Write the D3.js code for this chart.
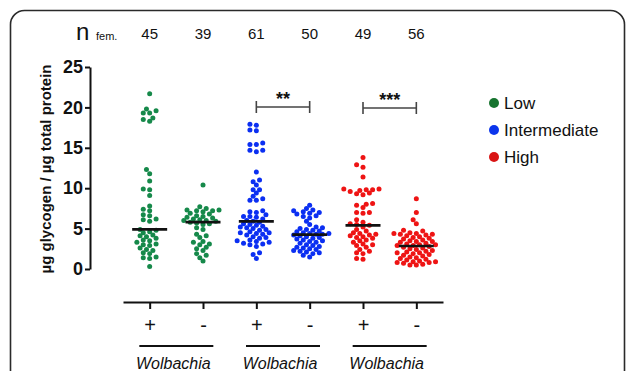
<!DOCTYPE html>
<html>
<head>
<meta charset="utf-8">
<script src="https://cdn.jsdelivr.net/npm/d3@7"></script>
<style>
  body { margin: 0; background: #fff; }
  svg { font-family: Arial, "Liberation Sans", sans-serif; }
</style>
</head>
<body>
<svg id="chart" width="627" height="371"></svg>
<script>
// groups, in plotting order
const groups = ['low+', 'low-', 'int+', 'int-', 'high+', 'high-'];
const wolbachia = ['+', '-', '+', '-', '+', '-'];
const nFemales = [45, 39, 61, 50, 49, 56];
const levels = ['Low', 'Intermediate', 'High'];
const yTicks = [0, 5, 10, 15, 20, 25];

// glycogen / protein values
const lowPlus = [21.7, 19.8, 19.3, 19.3, 19.6, 18.7, 18.3, 18.5,
  12.3, 11.8, 10.9, 9.9, 9.8, 9.1, 7.8, 7.4, 7.2,
  6.7, 6.6, 6.2, 6.1, 5.9, 4.9,
  4.8, 4.6, 4.5, 4.2, 4.1, 4.0, 3.8, 3.6, 3.5, 3.3, 3.1, 3.0, 2.9, 2.6, 2.4, 2.3, 2.0, 1.9, 1.5, 1.4, 1.3, 0.3];
const lowMinus = [10.4, 7.7, 7.5, 7.3, 7.2, 7.2, 7.1, 7.3, 6.9, 6.8, 6.6, 6.5, 6.4, 6.3, 6.2, 6.1, 6.0, 6.0, 5.9,
  5.8,
  5.7, 5.6, 5.5, 5.1, 4.9, 4.3, 4.1, 3.9, 3.4, 3.3, 3.1, 3.0, 2.7, 2.5, 2.3, 1.9, 1.7, 1.4, 1.0];
const intPlus = [17.9, 17.8, 17.1, 17.2, 15.6, 15.4, 15.4, 14.7, 14.5, 14.7, 12.0, 11.0, 10.8, 10.4, 9.8, 9.8, 9.4, 9.0, 8.7, 8.5, 8.5,
  7.2, 7.1, 7.0, 6.7, 6.5, 6.5, 6.4, 6.2, 6.0,
  5.9,
  5.8, 5.6, 5.5, 5.4, 5.3, 5.2, 5.1, 5.0, 4.9, 4.8, 4.6, 4.5, 4.5, 4.4, 4.3,
  4.2, 4.0, 3.9, 3.8, 3.6, 3.5, 3.4, 3.3, 3.2, 3.1, 3.0, 2.8, 2.0, 1.8, 1.3];
const intMinus = [7.9, 7.5, 7.3, 7.2, 7.1, 7.0, 6.9, 6.8, 6.6, 6.5, 6.3, 5.9, 5.5, 5.2, 5.1, 5.0, 4.9, 4.8, 4.7, 4.6, 4.5, 4.4, 4.4, 4.3, 4.3,
  4.2, 4.1, 4.0, 3.9, 3.8, 3.7, 3.6, 3.5, 3.4, 3.3, 3.2, 3.0, 2.9, 2.8, 2.7, 2.6, 2.5, 2.4, 2.3, 2.2, 2.1, 2.0, 1.9, 1.7, 1.5];
const highPlus = [13.8, 12.9, 12.6, 11.4, 9.9, 9.8, 9.8, 9.9, 9.7, 9.6, 9.4, 9.3, 9.2, 8.1, 8.0, 7.9, 7.6, 7.0, 7.0, 6.9, 6.1, 5.8, 5.6, 5.5,
  5.4,
  5.2, 4.9, 4.7, 4.5, 4.4, 4.3, 4.2, 4.1, 4.0, 3.9, 3.8, 3.6, 3.5, 3.3, 3.1, 3.0, 2.9, 2.7, 2.4, 2.2, 2.0, 1.9, 1.3, 1.2];
const highMinus = [8.7, 7.0, 6.1, 5.6, 4.8, 4.7, 4.5, 4.4, 4.4, 4.3, 4.3, 4.2, 4.1, 4.0, 3.9, 3.8, 3.7, 3.6, 3.5, 3.4, 3.4, 3.3, 3.2, 3.1, 3.0, 3.0, 2.9, 2.9,
  2.8, 2.7, 2.6, 2.5, 2.4, 2.3, 2.2, 2.1, 2.0, 2.0, 1.9, 1.8, 1.7, 1.6, 1.5, 1.4, 1.3, 1.2, 1.1, 1.0, 0.9, 0.9, 0.8, 0.7, 0.6, 0.5, 0.5, 0.8];

const series = [lowPlus, lowMinus, intPlus, intMinus, highPlus, highMinus];
const dotColors = ['#16894a', '#16894a', '#0b2ff2', '#0b2ff2', '#ee1414', '#ee1414'];
const legendColors = ['#17742f', '#0b35ec', '#d91414'];

const svg = d3.select('#chart');

// frame with rounded corners, runs off the bottom
svg.append('rect')
  .attr('x', 10.5).attr('y', 10.5)
  .attr('width', 614).attr('height', 420)
  .attr('rx', 14)
  .attr('fill', 'none')
  .attr('stroke', '#2a2a2a')
  .attr('stroke-width', 1.6);

const x = d3.scalePoint()
  .domain(groups)
  .range([123, 443])
  .padding(0.5);

const y = d3.scaleLinear()
  .domain([0, 25])
  .range([269, 67]);

// y axis
const yAxis = d3.axisLeft(y)
  .tickValues(yTicks)
  .tickSize(5)
  .tickSizeOuter(0);

svg.append('g')
  .attr('transform', 'translate(90,0)')
  .call(yAxis)
  .call(g => g.select('.domain').attr('stroke', '#111').attr('stroke-width', 2))
  .call(g => g.selectAll('.tick line').attr('stroke', '#111').attr('stroke-width', 2))
  .call(g => g.selectAll('.tick text')
    .attr('x', -7)
    .attr('fill', '#111')
    .style('font-size', '18px')
    .style('font-weight', 'bold')
    .style('font-family', 'Arial, "Liberation Sans", sans-serif'));

// y axis title
svg.append('text')
  .attr('transform', 'translate(51,169) rotate(-90)')
  .attr('text-anchor', 'middle')
  .style('font-size', '15px')
  .style('font-weight', 'bold')
  .attr('fill', '#111')
  .text('µg glycogen / µg total protein');

// beeswarm layout, points sorted by value, each pushed sideways until it fits
const r = 2.5;
function swarm(values) {
  const placed = [];
  const sorted = values.slice().sort((a, b) => a - b);
  sorted.forEach(v => {
    const py = y(v);
    let off = 0;
    for (let k = 0; k < 40; k++) {
      const cand = k === 0 ? 0 : (k % 2 ? -1 : 1) * Math.ceil(k / 2) * 3.2;
      const hit = placed.some(p => Math.hypot(p.dx - cand, p.py - py) < 4.4);
      if (!hit) { off = cand; break; }
    }
    placed.push({ v: v, py: py, dx: off });
  });
  return placed;
}

series.forEach((vals, i) => {
  const cx = x(groups[i]);
  const pts = swarm(vals);

  svg.append('g')
    .selectAll('circle')
    .data(pts)
    .enter().append('circle')
    .attr('cx', d => cx + d.dx)
    .attr('cy', d => d.py)
    .attr('r', r)
    .attr('fill', dotColors[i]);

  // median bar
  const med = d3.median(vals);
  svg.append('line')
    .attr('x1', cx - 17.5).attr('x2', cx + 17.5)
    .attr('y1', y(med)).attr('y2', y(med))
    .attr('stroke', '#111')
    .attr('stroke-width', 2.6);
});

// n row
svg.append('text')
  .attr('x', 76).attr('y', 40)
  .style('font-size', '24px')
  .attr('fill', '#111')
  .text('n');
svg.append('text')
  .attr('x', 96).attr('y', 40)
  .style('font-size', '11px')
  .attr('fill', '#111')
  .text('fem.');
svg.append('g')
  .selectAll('text')
  .data(nFemales)
  .enter().append('text')
  .attr('x', (d, i) => x(groups[i]))
  .attr('y', 39)
  .attr('text-anchor', 'middle')
  .style('font-size', '15px')
  .attr('fill', '#111')
  .text(d => d);

// significance brackets
const brackets = [
  { a: 'int+', b: 'int-', label: '**', yv: 107 },
  { a: 'high+', b: 'high-', label: '***', yv: 108 }
];
brackets.forEach(b => {
  const g = svg.append('g').attr('stroke', '#444').attr('stroke-width', 1.6);
  const x1 = x(b.a), x2 = x(b.b);
  g.append('line').attr('x1', x1).attr('x2', x2).attr('y1', b.yv).attr('y2', b.yv);
  g.append('line').attr('x1', x1).attr('x2', x1).attr('y1', b.yv - 6).attr('y2', b.yv + 6);
  g.append('line').attr('x1', x2).attr('x2', x2).attr('y1', b.yv - 6).attr('y2', b.yv + 6);
  svg.append('text')
    .attr('x', (x1 + x2) / 2).attr('y', b.yv - 2)
    .attr('text-anchor', 'middle')
    .style('font-size', '18px')
    .style('font-weight', 'bold')
    .attr('fill', '#111')
    .text(b.label);
});

// bottom axis with + / -
const xAxis = d3.axisBottom(x)
  .tickSize(7)
  .tickSizeOuter(0)
  .tickFormat((d, i) => wolbachia[i]);

svg.append('g')
  .attr('transform', 'translate(0,302)')
  .call(xAxis)
  .call(g => g.select('.domain').attr('stroke', '#111').attr('stroke-width', 2.2))
  .call(g => g.selectAll('.tick line').attr('stroke', '#111').attr('stroke-width', 2))
  .call(g => g.selectAll('.tick text')
    .attr('y', 16)
    .attr('fill', '#111')
    .style('font-size', '20px')
    .style('font-family', 'Arial, "Liberation Sans", sans-serif'));

// Wolbachia labels under each pair
[0, 2, 4].forEach(i => {
  const mid = (x(groups[i]) + x(groups[i + 1])) / 2;
  svg.append('line')
    .attr('x1', mid - 37).attr('x2', mid + 37)
    .attr('y1', 346).attr('y2', 346)
    .attr('stroke', '#111').attr('stroke-width', 2.2);
  svg.append('text')
    .attr('x', mid - 3).attr('y', 369)
    .attr('text-anchor', 'middle')
    .style('font-size', '16px')
    .style('font-style', 'italic')
    .attr('fill', '#111')
    .text('Wolbachia');
});

// legend
const legend = svg.append('g').attr('transform', 'translate(494,103)');
levels.forEach((lv, i) => {
  legend.append('circle')
    .attr('cx', 0).attr('cy', i * 27)
    .attr('r', 5)
    .attr('fill', legendColors[i]);
  legend.append('text')
    .attr('x', 10).attr('y', i * 27 + 6)
    .style('font-size', '17px')
    .attr('fill', '#111')
    .text(lv);
});
</script>
</body>
</html>
